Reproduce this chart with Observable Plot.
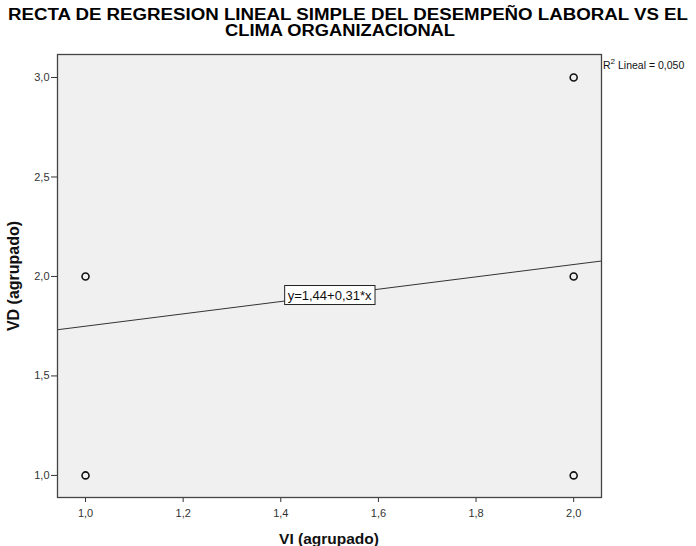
<!DOCTYPE html>
<html><head><meta charset="utf-8">
<script src="https://cdn.jsdelivr.net/npm/d3@7"></script>
<script src="https://cdn.jsdelivr.net/npm/@observablehq/plot@0.6"></script>
<style>body{margin:0;background:#fff;font-family:"Liberation Sans",Arial,sans-serif}</style>
</head><body><div id="chart"></div>
<script>
const titleLines = ["RECTA DE REGRESION LINEAL SIMPLE DEL DESEMPEÑO LABORAL VS EL", "CLIMA ORGANIZACIONAL"];
const xLabel = "VI (agrupado)";
const yLabel = "VD (agrupado)";
const pointsX = [1, 1, 2, 2, 2];
const pointsY = [1, 2, 1, 2, 3];
const xTicks = [1, 1.2, 1.4, 1.6, 1.8, 2];
const yTicks = [1, 1.5, 2, 2.5, 3];
const coefIntercept = [1.44];
const coefSlope = [0.31];
const r2Value = ["0,050"];
const xDomain = [0.9426, 2.057];
const yDomain = [0.889, 3.1156];

const fmt = d => d3.format(".1f")(d).replace(".", ",");
function fmt2(v){ return d3.format(".2f")(v).replace(".", ","); }
const a = coefIntercept[0], b = coefSlope[0];
const pts = pointsX.map((x, i) => ({x, y: pointsY[i]}));
const lineData = xDomain.map(x => ({x, y: a + b * x}));
const eqLabel = `y=${fmt2(a)}+${fmt2(b)}*x`;
const labelX = 1.5;

const W = 696, H = 546;
const chart = Plot.plot({
  width: W, height: H,
  marginLeft: 57, marginRight: 95, marginTop: 54, marginBottom: 49,
  style: {fontFamily: '"Liberation Sans", Arial, sans-serif', background: "#fff", color: "#222"},
  x: {domain: xDomain},
  y: {domain: yDomain},
  marks: [
    Plot.frame({fill: "#f0f0f0", stroke: "none"}),
    Plot.axisX({ticks: xTicks, tickFormat: fmt, tickSize: 5, tickPadding: 7, fontSize: 11, label: null, stroke: "#333", fill: "#333"}),
    Plot.axisY({ticks: yTicks, tickFormat: fmt, tickSize: 6, tickPadding: 2, fontSize: 11, label: null, stroke: "#333", fill: "#333"}),
    Plot.line(lineData, {x: "x", y: "y", stroke: "#333", strokeWidth: 1, clip: true}),
    Plot.dot(pts, {x: "x", y: "y", r: 3.5, stroke: "#111", strokeWidth: 1.6, fill: "none"}),
    Plot.frame({stroke: "#444", strokeWidth: 1.3}),
    Plot.text([{x: labelX, y: a + b * labelX}], {x: "x", y: "y", text: () => eqLabel, fontSize: 13, fill: "#111", className: "eq"})
  ]
});
document.getElementById("chart").appendChild(chart);
const svg = d3.select(chart);

// equation box
const eqText = svg.select("g.eq text");
if (!eqText.empty()) {
  const bb = eqText.node().getBBox();
  const g = d3.select(eqText.node().parentNode);
  const tr = eqText.attr("transform");
  g.insert("rect", "text")
    .attr("transform", tr)
    .attr("x", bb.x - 3).attr("y", bb.y - 2)
    .attr("width", bb.width + 6).attr("height", bb.height + 4)
    .attr("fill", "#fff").attr("stroke", "#222").attr("stroke-width", 1);
}

// title
const tg = svg.append("g").attr("font-weight", "bold").attr("font-size", 16).attr("fill", "#000").attr("text-anchor", "middle");
tg.append("text").attr("x", 348).attr("y", 20).attr("textLength", 680).attr("lengthAdjust", "spacingAndGlyphs").text(titleLines[0]);
tg.append("text").attr("x", 340).attr("y", 36).attr("textLength", 230).attr("lengthAdjust", "spacingAndGlyphs").text(titleLines[1]);

// axis labels
svg.append("text").attr("x", 329).attr("y", 544).attr("text-anchor", "middle").attr("font-weight", "bold").attr("font-size", 15.5).attr("fill", "#111").text(xLabel);
svg.append("text").attr("transform", "translate(19,276) rotate(-90)").attr("text-anchor", "middle").attr("font-weight", "bold").attr("font-size", 16).attr("fill", "#111").text(yLabel);

// R2 label
const r2 = svg.append("text").attr("x", 603).attr("y", 69).attr("text-anchor", "start").attr("font-size", 10.5).attr("fill", "#111");
r2.append("tspan").text("R");
r2.append("tspan").attr("dy", -5).attr("font-size", 8).text("2");
r2.append("tspan").attr("dy", 5).text(" Lineal = " + r2Value[0]);
</script></body></html>
